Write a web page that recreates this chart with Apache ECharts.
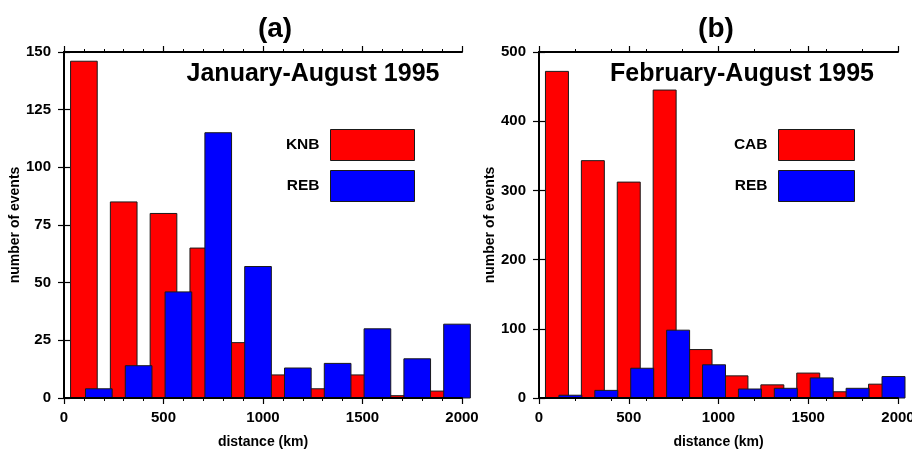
<!DOCTYPE html>
<html>
<head>
<meta charset="utf-8">
<script src="https://cdn.jsdelivr.net/npm/echarts@6/dist/echarts.min.js"></script>
<style>
html,body{margin:0;padding:0;background:#fff;}
#chart{width:912px;height:451px;}
</style>
</head>
<body>
<div id="chart"></div>
<script>
// ---- data ----
const panelTitles = ['(a)', '(b)'];
const periodLabels = ['January-August 1995', 'February-August 1995'];
const xTickLabels = ['0', '500', '1000', '1500', '2000'];
const yTicksA = ['0', '25', '50', '75', '100', '125', '150'];
const yTicksB = ['0', '100', '200', '300', '400', '500'];

// bin centres (km)
const redCenters  = [100, 300, 500, 700, 900, 1100, 1300, 1500, 1700, 1900];
const blueCenters = [175, 375, 575, 775, 975, 1175, 1375, 1575, 1775, 1975];

// panel (a)
const knbCounts  = [146, 85, 80, 65, 24, 10, 4, 10, 1, 3];
const rebACounts = [4, 14, 46, 115, 57, 13, 15, 30, 17, 32];
// panel (b)
const cabCounts  = [472, 343, 312, 445, 70, 32, 19, 36, 9, 20];
const rebBCounts = [4, 11, 43, 98, 48, 13, 14, 29, 14, 31];

// ---- fonts ----
const FONT = '"Liberation Sans", Arial, Helvetica, sans-serif';
function hasFont(name) {
  const c = document.createElement('canvas').getContext('2d');
  const s = 'abcdefghijKLMNOP0123456789';
  c.font = 'bold 20px monospace';
  const w0 = c.measureText(s).width;
  c.font = 'bold 20px "' + name + '", monospace';
  return Math.abs(c.measureText(s).width - w0) > 0.5;
}
const NARROW_OK = hasFont('Liberation Sans Narrow');
const TICK_FONT = NARROW_OK ? '"Liberation Sans Narrow", "Liberation Sans", sans-serif' : FONT;
const TICK_SIZE = NARROW_OK ? 17 : 15;
const LEG_SIZE = NARROW_OK ? 17 : 15.5;

// ---- chart ----
const pairs = (cs, vs) => cs.map((c, i) => [c, vs[i]]);

function barRenderer(halfWidth) {
  return function (params, api) {
    const c = api.value(0), v = api.value(1);
    const p0 = api.coord([c - halfWidth, v]);
    const p1 = api.coord([c + halfWidth, 0]);
    return {
      type: 'rect',
      shape: { x: p0[0], y: p0[1], width: p1[0] - p0[0], height: p1[1] - p0[1] },
      style: api.style({ stroke: '#1a1a1a', lineWidth: 1 })
    };
  };
}

const axisLineStyle = { color: '#000', width: 2 };
const labelStyle = { color: '#000', fontFamily: TICK_FONT, fontWeight: 'bold', fontSize: TICK_SIZE };
const nameStyle = { color: '#000', fontFamily: FONT, fontWeight: 'bold', fontSize: 14 };

function xAxesFor(gi, minorInterval) {
  return [
    { gridIndex: gi, type: 'value', position: 'bottom', min: 0, max: 2000, interval: 500,
      z: 5, splitLine: { show: false },
      axisLine: { show: true, lineStyle: axisLineStyle },
      axisTick: { show: true, length: 6, lineStyle: { color: '#000', width: 1.2 } },
      axisLabel: Object.assign({ margin: 12, formatter: (v) => xTickLabels[v / 500] }, labelStyle),
      name: 'distance (km)', nameLocation: 'middle', nameGap: 37, nameTextStyle: nameStyle },
    { gridIndex: gi, type: 'value', position: 'bottom', min: 0, max: 2000, interval: minorInterval,
      z: 5, splitLine: { show: false }, axisLine: { show: false },
      axisTick: { show: true, length: 3, lineStyle: { color: '#000', width: 1 } },
      axisLabel: { show: false } },
    { gridIndex: gi, type: 'value', position: 'top', min: 0, max: 2000, interval: 500,
      z: 5, splitLine: { show: false },
      axisLine: { show: true, lineStyle: axisLineStyle },
      axisTick: { show: true, length: 6, lineStyle: { color: '#000', width: 1.2 } },
      axisLabel: { show: false } },
    { gridIndex: gi, type: 'value', position: 'top', min: 0, max: 2000, interval: minorInterval,
      z: 5, splitLine: { show: false }, axisLine: { show: false },
      axisTick: { show: true, length: 3, lineStyle: { color: '#000', width: 1 } },
      axisLabel: { show: false } }
  ];
}

function yAxesFor(gi, max, interval, ticks) {
  return [
    { gridIndex: gi, type: 'value', position: 'left', min: 0, max: max, interval: interval,
      z: 5, splitLine: { show: false },
      axisLine: { show: true, lineStyle: axisLineStyle },
      axisTick: { show: true, length: 6, lineStyle: { color: '#000', width: 1.2 } },
      axisLabel: Object.assign({ margin: 13, formatter: (v) => ticks[v / interval] }, labelStyle),
      name: 'number of events', nameLocation: 'middle', nameGap: 40, nameRotate: 90,
      nameTextStyle: nameStyle },
    { gridIndex: gi, type: 'value', position: 'right', min: 0, max: max, interval: interval,
      z: 5, splitLine: { show: false },
      axisLine: { show: true, lineStyle: axisLineStyle },
      axisTick: { show: true, length: 6, lineStyle: { color: '#000', width: 1.2 } },
      axisLabel: { show: false } }
  ];
}

const RED = '#ff0000', BLUE = '#0000ff';
const legendText = { fontFamily: TICK_FONT, fontWeight: 'bold', fontSize: LEG_SIZE, color: '#000', padding: [0, 6, 0, 0] };

const option = {
  backgroundColor: '#fff',
  animation: false,
  title: [
    { text: panelTitles[0], left: 270, textAlign: 'center', top: 10,
      textStyle: { fontFamily: FONT, fontWeight: 'bold', fontSize: 28, color: '#000' } },
    { text: panelTitles[1], left: 711, textAlign: 'center', top: 10,
      textStyle: { fontFamily: FONT, fontWeight: 'bold', fontSize: 28, color: '#000' } },
    { text: periodLabels[0], left: 308, textAlign: 'center', top: 57,
      textStyle: { fontFamily: FONT, fontWeight: 'bold', fontSize: 25, color: '#000' } },
    { text: periodLabels[1], left: 737, textAlign: 'center', top: 57,
      textStyle: { fontFamily: FONT, fontWeight: 'bold', fontSize: 25, color: '#000' } }
  ],
  legend: [
    { data: ['KNB', 'REB'], orient: 'vertical', align: 'right', right: 497, top: 129,
      padding: 0, itemWidth: 84, itemHeight: 31, itemGap: 9, selectedMode: false, icon: 'rect',
      itemStyle: { borderColor: '#1a1a1a', borderWidth: 1 }, textStyle: legendText },
    { data: ['CAB', 'REB '], orient: 'vertical', align: 'right', right: 57, top: 129,
      padding: 0, itemWidth: 76, itemHeight: 31, itemGap: 9, selectedMode: false, icon: 'rect',
      formatter: (n) => n.trim(),
      itemStyle: { borderColor: '#1a1a1a', borderWidth: 1 }, textStyle: legendText }
  ],
  grid: [
    { left: 64, top: 52, width: 398, height: 346, containLabel: false, outerBoundsMode: 'none' },
    { left: 539, top: 52, width: 359, height: 346, containLabel: false, outerBoundsMode: 'none' }
  ],
  xAxis: [].concat(xAxesFor(0, 100), xAxesFor(1, 200)),
  yAxis: [].concat(yAxesFor(0, 150, 25, yTicksA), yAxesFor(1, 500, 100, yTicksB)),
  series: [
    { name: 'KNB', type: 'custom', xAxisIndex: 0, yAxisIndex: 0, clip: false, z: 2,
      itemStyle: { color: RED }, encode: { x: 0, y: 1 },
      renderItem: barRenderer(67), data: pairs(redCenters, knbCounts) },
    { name: 'REB', type: 'custom', xAxisIndex: 0, yAxisIndex: 0, clip: false, z: 3,
      itemStyle: { color: BLUE }, encode: { x: 0, y: 1 },
      renderItem: barRenderer(67), data: pairs(blueCenters, rebACounts) },
    { name: 'CAB', type: 'custom', xAxisIndex: 4, yAxisIndex: 2, clip: false, z: 2,
      itemStyle: { color: RED }, encode: { x: 0, y: 1 },
      renderItem: barRenderer(64), data: pairs(redCenters, cabCounts) },
    { name: 'REB ', type: 'custom', xAxisIndex: 4, yAxisIndex: 2, clip: false, z: 3,
      itemStyle: { color: BLUE }, encode: { x: 0, y: 1 },
      renderItem: barRenderer(64), data: pairs(blueCenters, rebBCounts) }
  ]
};

const chart = echarts.init(document.getElementById('chart'), null, { renderer: 'canvas' });
chart.setOption(option);
</script>
</body>
</html>
